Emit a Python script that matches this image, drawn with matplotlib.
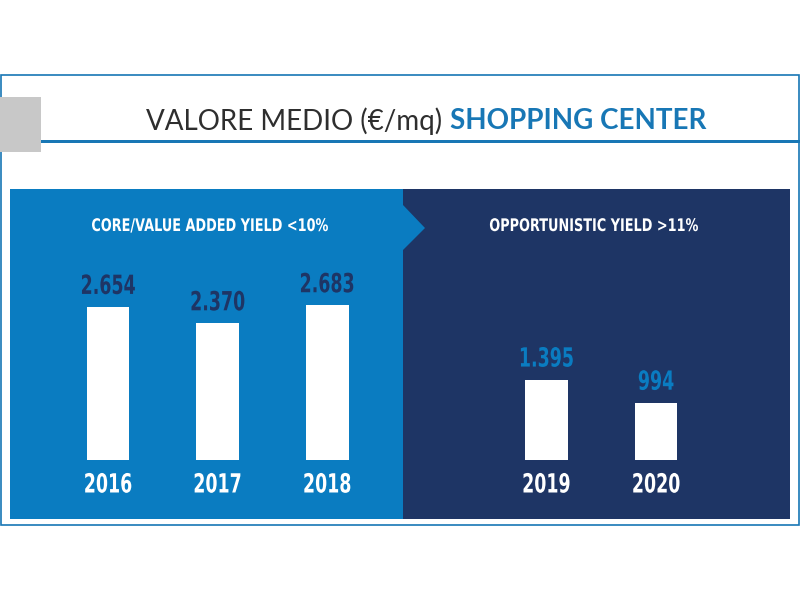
import matplotlib.pyplot as plt
from matplotlib.patches import Rectangle, Polygon
from matplotlib.patheffects import AbstractPathEffect
from matplotlib.transforms import Affine2D

# data
years = ["2016", "2017", "2018", "2019", "2020"]
values = [2654, 2370, 2683, 1395, 994]
labels = ["2.654", "2.370", "2.683", "1.395", "994"]
positions = [0, 1, 2, 4, 5]
groups = ["core", "core", "core", "opp", "opp"]

LIGHT = "#0a7cc1"
DARK = "#1e3565"
TITLE_BLUE = "#1877b5"


class Condense(AbstractPathEffect):
    """squeeze text horizontally around its centre (poor man's condensed font)"""

    def __init__(self, sx):
        super().__init__()
        self.sx = sx

    def draw_path(self, renderer, gc, tpath, affine, rgbFace=None):
        ext = tpath.get_extents(affine)
        cx = (ext.x0 + ext.x1) / 2
        aff = affine + Affine2D().translate(-cx, 0).scale(self.sx, 1).translate(cx, 0)
        renderer.draw_path(gc, tpath, aff, rgbFace)


COND = dict(family="DejaVu Sans", weight="bold")

W, H = 800, 600
fig = plt.figure(figsize=(8, 6), dpi=100)


def fx(px):
    return px / W


def fy(py):
    return 1 - py / H


# outer frame
fig.patches.append(Rectangle((fx(1), fy(525)), fx(798), (525 - 75) / H,
                             transform=fig.transFigure, fill=False,
                             edgecolor=TITLE_BLUE, lw=1.2))
# grey square
fig.patches.append(Rectangle((0, fy(152)), fx(41), 55 / H, transform=fig.transFigure,
                             facecolor="#c8c8c8", edgecolor="none"))
# title underline
fig.patches.append(Rectangle((fx(41), fy(143)), fx(759), 3 / H, transform=fig.transFigure,
                             facecolor=TITLE_BLUE, edgecolor="none"))

# panels
fig.patches.append(Rectangle((fx(10), fy(519)), fx(393), (519 - 189) / H,
                             transform=fig.transFigure, facecolor=LIGHT, edgecolor="none"))
fig.patches.append(Rectangle((fx(403), fy(519)), fx(387), (519 - 189) / H,
                             transform=fig.transFigure, facecolor=DARK, edgecolor="none"))
fig.patches.append(Polygon([(fx(403), fy(205)), (fx(425), fy(228)), (fx(403), fy(250))],
                           closed=True, transform=fig.transFigure,
                           facecolor=LIGHT, edgecolor="none"))

# title
fig.text(fx(442), fy(121), "VALORE MEDIO (€/mq)", ha="right", va="center",
         fontsize=20, color="#2e2e2e", family="Lato", weight="normal")
fig.text(fx(450), fy(121), "SHOPPING CENTER", ha="left", va="center",
         fontsize=20, color=TITLE_BLUE, family="Lato", weight="bold")

# subtitles
sub_fx = [Condense(0.74)]
fig.text(fx(210), fy(226), "CORE/VALUE ADDED YIELD <10%", ha="center", va="center",
         fontsize=12.5, color="white", path_effects=sub_fx, **COND)
fig.text(fx(594), fy(226), "OPPORTUNISTIC YIELD >11%", ha="center", va="center",
         fontsize=12.5, color="white", path_effects=sub_fx, **COND)

# bars axes: x unit = 109.6 px, bar baseline at y=460 px
unit = 109.6
x0 = 108
ax = fig.add_axes([fx(10), fy(460), fx(782), (460 - 190) / H])
ax.set_zorder(3)
ax.set_xlim((10 - x0) / unit, (792 - x0) / unit)
ax.set_ylim(0, 270 / 0.0577)
ax.axis("off")
ax.patch.set_alpha(0)

ax.bar(positions, values, width=0.39, color="white", edgecolor="none")
big_fx = [Condense(0.66)]
for p, v, lab, g, yr in zip(positions, values, labels, groups, years):
    ax.annotate(lab, (p, v), xytext=(0, 5), textcoords="offset points",
                ha="center", va="bottom", fontsize=19, path_effects=big_fx,
                color=DARK if g == "core" else LIGHT, **COND)
    ax.annotate(yr, (p, 0), xytext=(0, -9),
                textcoords="offset points", ha="center", va="top",
                fontsize=19, color="white", path_effects=big_fx, **COND)

fig.savefig("out.png", dpi=100, facecolor="white")
